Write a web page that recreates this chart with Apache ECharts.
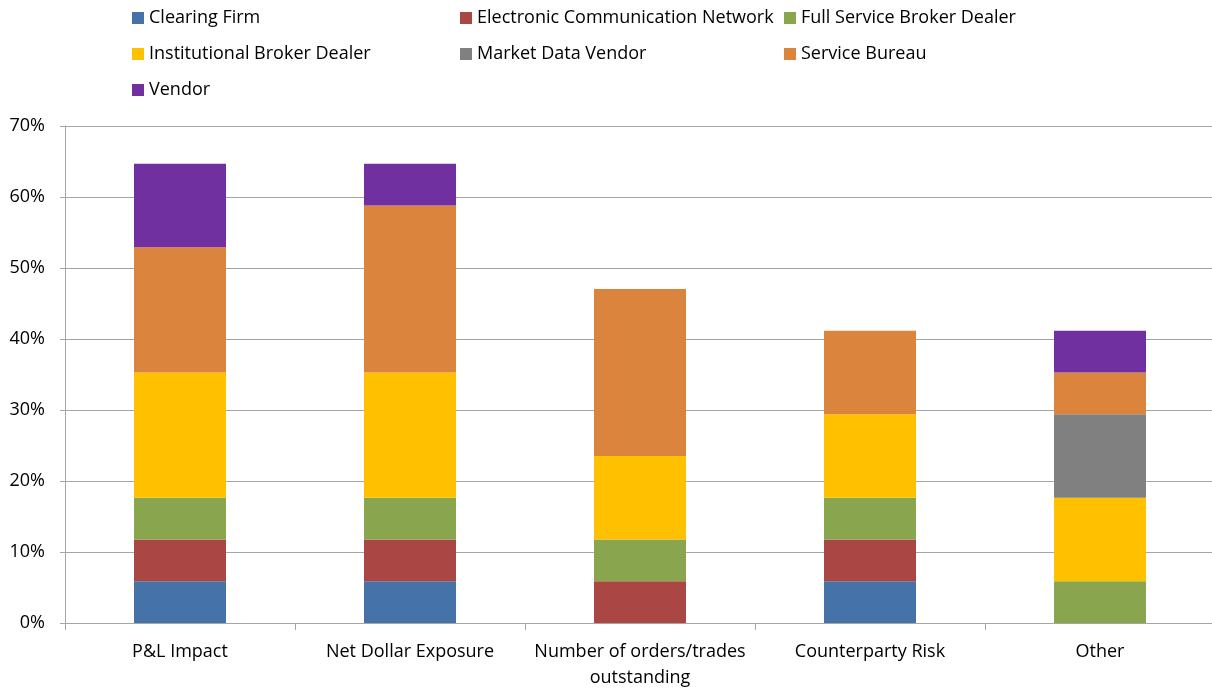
<!DOCTYPE html>
<html><head><meta charset="utf-8">
<script src="https://cdn.jsdelivr.net/npm/echarts@6/dist/echarts.min.js"></script>
<style>html,body{margin:0;padding:0;background:#fff}#c{width:1212px;height:689px}</style>
</head><body><div id="c"></div>
<script>
const categories = ['P&L Impact', 'Net Dollar Exposure', 'Number of orders/trades\noutstanding', 'Counterparty Risk', 'Other'];
const seriesNames = ['Clearing Firm', 'Electronic Communication Network', 'Full Service Broker Dealer', 'Institutional Broker Dealer', 'Market Data Vendor', 'Service Bureau', 'Vendor'];
const clearingFirm = [5.88, 5.88, 0, 5.88, 0];
const ecn = [5.88, 5.88, 5.88, 5.88, 0];
const fullService = [5.88, 5.88, 5.88, 5.88, 5.88];
const institutional = [17.65, 17.65, 11.76, 11.76, 11.76];
const marketData = [0, 0, 0, 0, 11.76];
const serviceBureau = [17.65, 23.53, 23.53, 11.76, 5.88];
const vendor = [11.76, 5.88, 0, 0, 5.88];
const yTicks = [0, 10, 20, 30, 40, 50, 60, 70];

const seriesData = [clearingFirm, ecn, fullService, institutional, marketData, serviceBureau, vendor];
const colors = ['#4572A7', '#AA4643', '#89A54E', '#FFC000', '#808080', '#DB843D', '#7030A0'];
const font = '"Open Sans", "Noto Sans", sans-serif';

const legendPos = [[132, 9], [460, 9], [784, 9], [132, 45], [460, 45], [784, 45], [132, 81]];
const legends = seriesNames.map((n, i) => ({
  data: [n], left: legendPos[i][0], top: legendPos[i][1],
  itemWidth: 12, itemHeight: 12, itemGap: 0, padding: 0,
  icon: 'rect',
  textStyle: { fontFamily: font, fontSize: 18, color: '#000', padding: [0, 0, 0, 0] },
  selectedMode: false
}));

const chart = echarts.init(document.getElementById('c'), null, { renderer: 'canvas' });
chart.setOption({
  animation: false,
  color: colors,
  legend: legends,
  grid: { left: 65, top: 126, width: 1150, height: 497, containLabel: false, outerBoundsMode: 'none' },
  xAxis: {
    type: 'category', data: categories,
    axisLine: { lineStyle: { color: '#A6A6A6', width: 1 } },
    axisTick: { show: true, alignWithLabel: false, length: 7, lineStyle: { color: '#A6A6A6' } },
    axisLabel: { fontFamily: font, fontSize: 18, color: '#000', margin: 16, lineHeight: 26, interval: 0 }
  },
  yAxis: {
    type: 'value', min: 0, max: 70, interval: 10,
    axisLine: { show: true, lineStyle: { color: '#A6A6A6' } },
    axisTick: { show: true, length: 5, lineStyle: { color: '#A6A6A6' } },
    splitLine: { lineStyle: { color: '#A6A6A6' } },
    axisLabel: { fontFamily: font, fontSize: 18, color: '#000', margin: 20,
      formatter: v => yTicks.includes(v) ? v + '%' : '' }
  },
  series: seriesNames.map((n, i) => ({
    name: n, type: 'bar', stack: 'total', barWidth: '40%',
    data: seriesData[i],
    itemStyle: { color: colors[i] }
  }))
});
</script></body></html>
